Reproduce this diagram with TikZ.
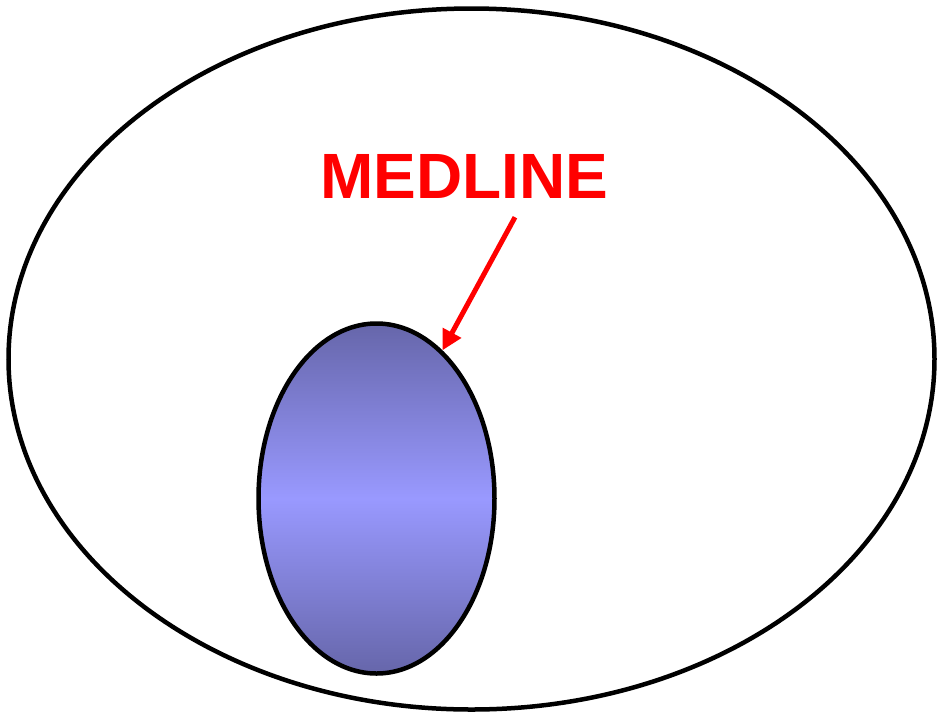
\documentclass[tikz,border=0pt]{standalone}
\usepackage{fontspec}
\setmainfont{Liberation Sans}
\usepackage{xcolor}
\usepackage{tikz}
\usetikzlibrary{arrows.meta,shapes.geometric,positioning,calc}
\definecolor{setedge}{HTML}{6666AA}
\definecolor{setmid}{HTML}{9999FF}
\definecolor{medred}{HTML}{FF0000}

\begin{document}
\begin{tikzpicture}[x=1pt,y=-1pt,
  universe/.style={draw, ellipse, line width=4.5pt, inner sep=0pt, minimum width=926pt, minimum height=701pt},
  subset/.style={draw, ellipse, line width=4.5pt, inner sep=0pt, minimum width=236pt, minimum height=350pt,
    top color=setedge, bottom color=setedge, middle color=setmid},
  lbl/.style={inner sep=0pt, text=medred, font=\fontsize{64pt}{64pt}\selectfont\bfseries},
]
\useasboundingbox (0,0) rectangle (938,716);
\node[universe] (all) at (471.5,359) {};
\node[subset] (medline) at (376.5,498.5) {};
\node[lbl] (name) at (464,176) {MEDLINE};
\draw[medred, line width=5pt, -{Triangle[length=20pt,width=20pt]}] ([xshift=51pt, yshift=-19pt]name.south) -- (medline.66);
\end{tikzpicture}
\end{document}
